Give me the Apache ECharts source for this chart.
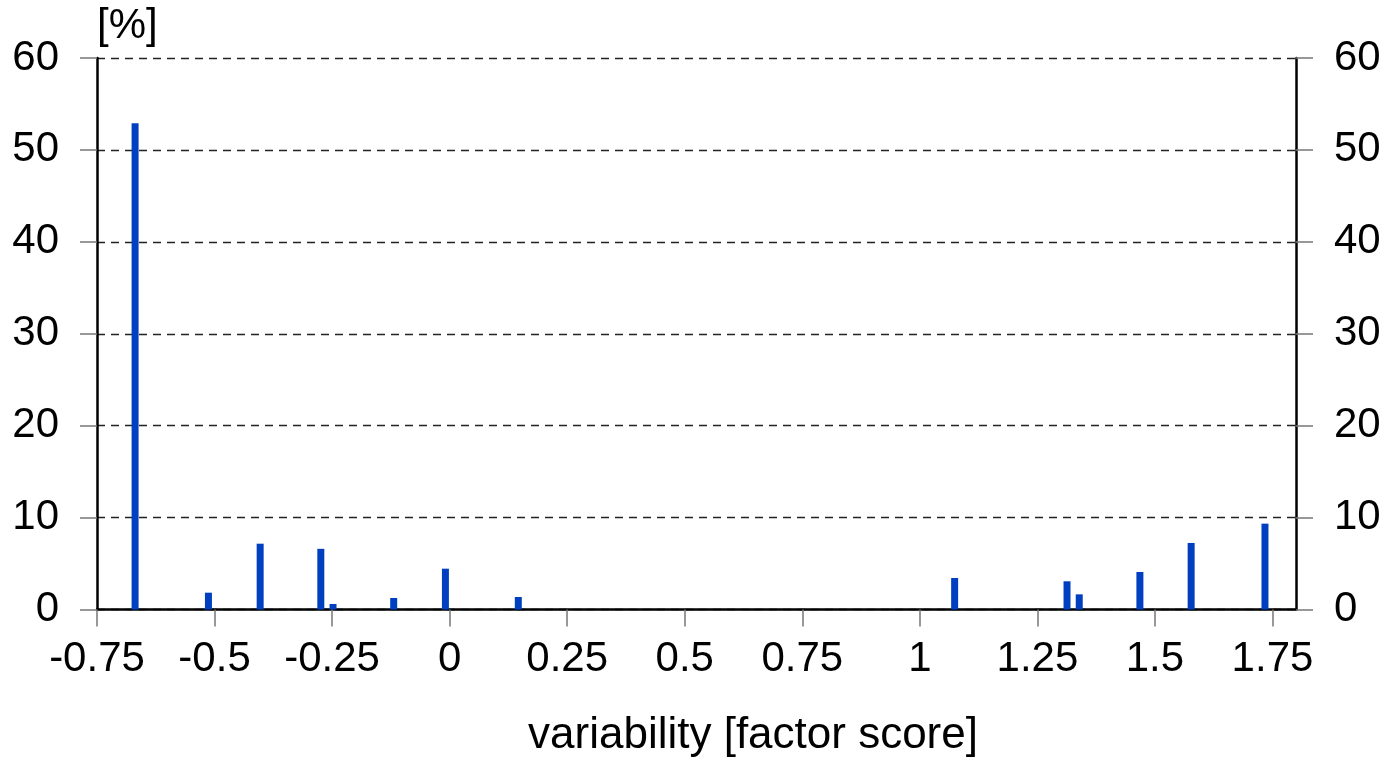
<!DOCTYPE html>
<html>
<head>
<meta charset="utf-8">
<script src="https://cdn.jsdelivr.net/npm/echarts@6/dist/echarts.min.js"></script>
<style>
html,body{margin:0;padding:0;background:#fff;}
#chart{width:1394px;height:764px;}
</style>
</head>
<body>
<div id="chart"></div>
<script>
// Data
const scores = [-0.669, -0.513, -0.403, -0.274, -0.248, -0.119, -0.009, 0.146, 1.074, 1.313, 1.339, 1.468, 1.577, 1.734];
const percents = [52.9, 1.83, 7.16, 6.6, 0.6, 1.25, 4.44, 1.36, 3.43, 3.07, 1.65, 4.08, 7.24, 9.34];
const xTicks = [-0.75, -0.5, -0.25, 0, 0.25, 0.5, 0.75, 1, 1.25, 1.5, 1.75];

const FONT = 'Liberation Sans, Arial, sans-serif';
const chart = echarts.init(document.getElementById('chart'), null, {renderer: 'canvas'});

const yAxisCommon = {
  type: 'value', min: 0, max: 60, interval: 10,
  axisLine: {show: true, onZero: false, lineStyle: {color: '#000', width: 2.5}},
  axisTick: {show: true, inside: false, length: 17, lineStyle: {color: '#777', width: 1.5}},
  axisLabel: {color: '#000', fontSize: 42, fontFamily: FONT, margin: 38},
};

chart.setOption({
  animation: false,
  backgroundColor: '#fff',
  grid: {left: 97, right: 98, top: 58, bottom: 154.5, containLabel: false},
  xAxis: {
    type: 'value', min: -0.75, max: 1.8, interval: 0.25,
    name: 'variability [factor score]',
    nameLocation: 'middle', nameGap: 104,
    nameTextStyle: {color: '#000', fontSize: 44, fontFamily: FONT, padding: [0, 0, 0, 113]},
    axisLine: {show: true, onZero: false, lineStyle: {color: '#000', width: 2.5}},
    axisTick: {show: true, length: 17, lineStyle: {color: '#777', width: 1.5}, customValues: xTicks},
    axisLabel: {color: '#000', fontSize: 42, fontFamily: FONT, margin: 29, customValues: xTicks,
      formatter: v => String(v)},
    splitLine: {show: false}
  },
  yAxis: [
    Object.assign({}, yAxisCommon, {
      position: 'left',
      name: '[%]', nameLocation: 'end', nameGap: 11,
      nameTextStyle: {color: '#000', fontSize: 42, fontFamily: FONT, align: 'left', verticalAlign: 'bottom'},
      splitLine: {show: true, lineStyle: {color: '#222', width: 1.4, type: [8, 6]}}
    }),
    Object.assign({}, yAxisCommon, {
      position: 'right',
      splitLine: {show: false}
    })
  ],
  series: [{
    type: 'bar',
    xAxisIndex: 0, yAxisIndex: 0,
    barWidth: 7,
    itemStyle: {color: '#0040c0'},
    data: scores.map((s, i) => [s, percents[i]])
  }]
});
</script>
</body>
</html>
